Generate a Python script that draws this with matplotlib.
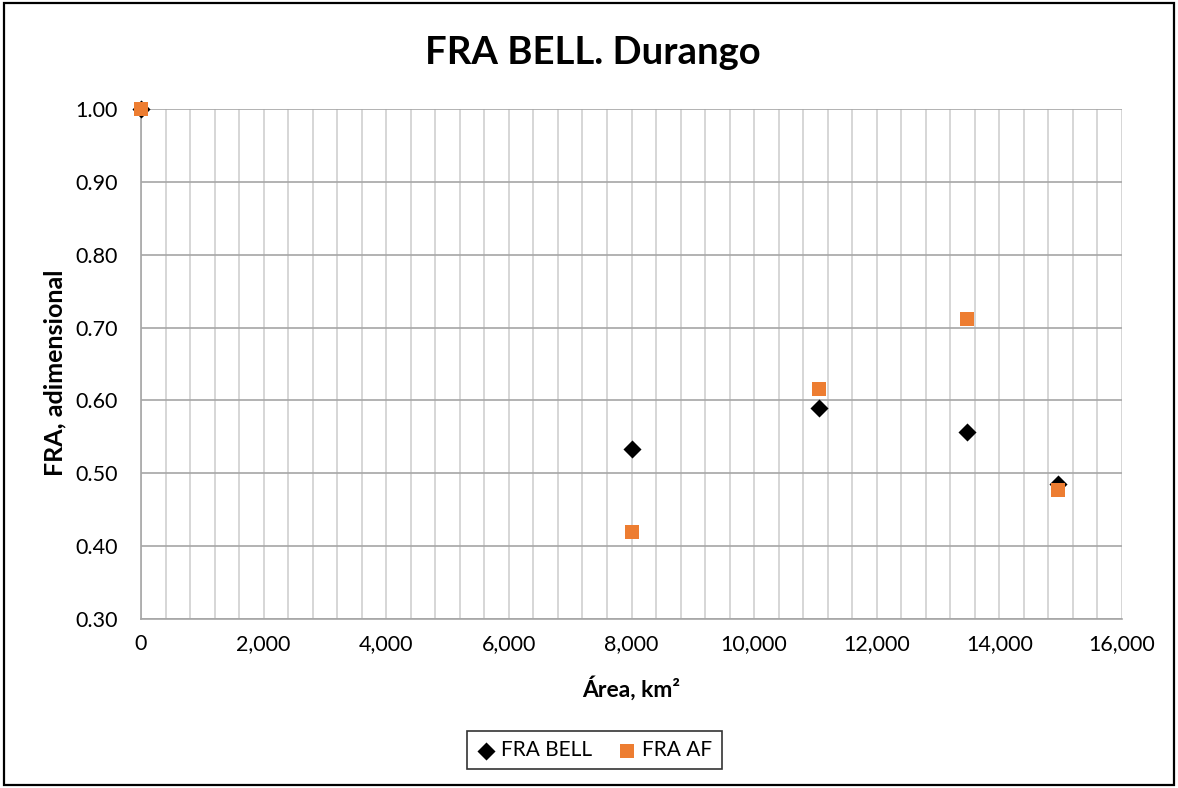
import matplotlib
matplotlib.use("Agg")
import matplotlib.pyplot as plt
from matplotlib.ticker import MultipleLocator, FuncFormatter
from matplotlib.patches import Rectangle

plt.rcParams['font.family'] = ['Lato', 'DejaVu Sans']

# Data
area_km2 = [0, 8000, 11050, 13480, 14950]
fra_bell = [1.000, 0.533, 0.589, 0.557, 0.485]
fra_af = [1.000, 0.420, 0.616, 0.712, 0.477]

title = "FRA BELL. Durango"
xlabel = "Área, km²"
ylabel = "FRA, adimensional"

W, H = 1178, 788
L, R, T, B = 141, 1122, 109, 619
fig = plt.figure(figsize=(W / 100, H / 100), dpi=100)
ax = fig.add_axes([L / W, 1 - B / H, (R - L) / W, (B - T) / H])

orange = "#ED7D31"
ax.scatter(area_km2, fra_bell, marker="D", s=9.2 ** 2, color="black",
           label="FRA BELL", zorder=3, linewidths=0, clip_on=False)
ax.scatter(area_km2, fra_af, marker="s", s=10 ** 2, color=orange,
           label="FRA AF", zorder=4, linewidths=0, clip_on=False)

ax.set_xlim(0, 16000)
ax.set_ylim(0.30, 1.00)
ax.xaxis.set_major_locator(MultipleLocator(2000))
ax.xaxis.set_minor_locator(MultipleLocator(400))
ax.yaxis.set_major_locator(MultipleLocator(0.10))
ax.xaxis.set_major_formatter(FuncFormatter(lambda v, p: f"{v:,.0f}"))
ax.yaxis.set_major_formatter(FuncFormatter(lambda v, p: f"{v:.2f}"))

ax.grid(which="minor", axis="x", color="#D0D0D0", linewidth=1.2)
ax.grid(which="major", axis="x", color="#D0D0D0", linewidth=1.2)
ax.grid(which="major", axis="y", color="#A6A6A6", linewidth=1.2)
ax.set_axisbelow(True)

for side in ("top", "right"):
    ax.spines[side].set_visible(False)
for side in ("left", "bottom"):
    ax.spines[side].set_color("#A6A6A6")
    ax.spines[side].set_linewidth(1.2)

ax.tick_params(which="both", length=0, labelsize=15.5, colors="black")
ax.tick_params(axis="x", pad=11)
ax.tick_params(axis="y", pad=17)

ax.set_xlabel(xlabel, fontsize=16.5, fontweight="bold")
ax.set_ylabel(ylabel, fontsize=18, fontweight="bold")
ax.xaxis.set_label_coords(0.5, -(688 - B) / (B - T))
ax.yaxis.set_label_coords(-(L - 55) / (R - L), 0.5 + ((T + B) / 2 - 373) / (B - T))
ax.xaxis.label.set_va("center")
ax.yaxis.label.set_va("center")

fig.text(593 / W, 1 - 53 / H, title, ha="center", va="center",
         fontsize=27.5, fontweight="bold")

leg = fig.legend(loc="center", bbox_to_anchor=(594 / W, 1 - 750 / H),
                 ncol=2, fontsize=15, frameon=True, fancybox=False,
                 edgecolor="black", handletextpad=0.2, columnspacing=1.2,
                 borderpad=0.45, handlelength=1.0)
leg.get_frame().set_linewidth(1.2)

fig.patches.append(Rectangle((0.003, 0.004), 0.994, 0.992,
                             transform=fig.transFigure, fill=False,
                             edgecolor="black", linewidth=1.6))

fig.savefig("out.png", dpi=100)
